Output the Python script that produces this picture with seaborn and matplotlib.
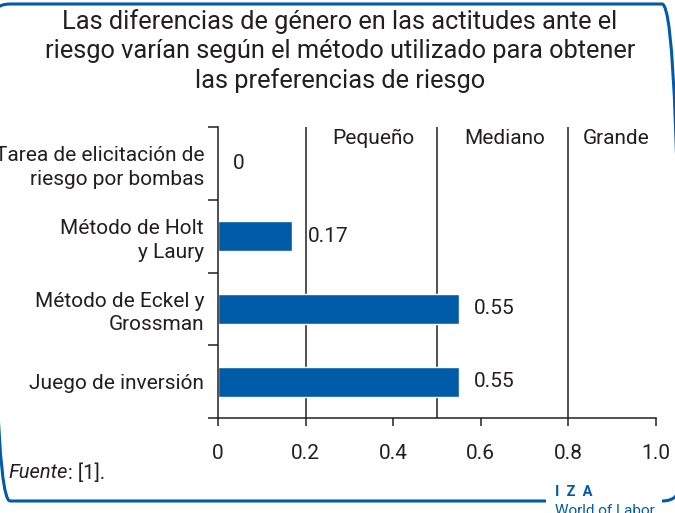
import numpy as np
import matplotlib
matplotlib.use("Agg")
import matplotlib.pyplot as plt
import matplotlib.transforms as mtransforms
from matplotlib.patches import FancyBboxPatch, Rectangle
import seaborn as sns
import pandas as pd

# data
metodos = ["Tarea de elicitación de\nriesgo por bombas",
           "Método de Holt\ny Laury",
           "Método de Eckel y\nGrossman",
           "Juego de inversión"]
diferencia = [0.0, 0.17, 0.55, 0.55]
umbrales = [0.2, 0.5, 0.8]
bandas = ["Pequeño", "Mediano", "Grande"]
bandas_x = [0.355, 0.655, 0.91]
xticks = [0, 0.2, 0.4, 0.6, 0.8, 1.0]
xtick_labels = ["0", "0.2", "0.4", "0.6", "0.8", "1.0"]

titulo = ("Las diferencias de género en las actitudes ante el\n"
          "riesgo varían según el método utilizado para obtener\n"
          "las preferencias de riesgo")

azul = "#005ca9"
gris = "#231f20"
fs = 15

sns.set_style("white")
plt.rcParams['font.family'] = ['Roboto', 'DejaVu Sans']

df = pd.DataFrame({"metodo": metodos, "valor": diferencia})

fig = plt.figure(figsize=(6.75, 5.13), dpi=100)
ax = fig.add_axes([218/675, 1-418/513, (656-218)/675, (418-127)/513])

sns.barplot(data=df, x="valor", y="metodo", orient="h", color=azul,
            saturation=1, width=0.41, ax=ax)

ax.set_xlim(0, 1.0)
ax.set_ylim(3.5, -0.5)
ax.set_xlabel("")
ax.set_ylabel("")

for u in umbrales:
    ax.axvline(u, color=gris, lw=1.1, zorder=0)

for b, bx in zip(bandas, bandas_x):
    ax.text(bx, -0.47, b, ha="center", va="top", fontsize=fs, color=gris)

for i, v in enumerate(diferencia):
    ax.annotate(f"{v:g}", (v, i), xytext=(11, 0), textcoords="offset points",
                ha="left", va="center", fontsize=fs, color=gris)

sns.despine(ax=ax)
for s in ["left", "bottom"]:
    ax.spines[s].set_color(gris)
    ax.spines[s].set_linewidth(1.1)

ax.set_xticks(xticks)
ax.set_xticklabels(xtick_labels, fontsize=fs, color=gris)
ax.tick_params(axis="x", direction="out", length=6, width=1.1, color=gris,
               pad=13, bottom=True)
ax.set_yticks(range(len(metodos)))
ax.set_yticklabels(metodos, fontsize=fs, color=gris, linespacing=1.3)
ax.tick_params(axis="y", which="major", length=0, pad=10)
ax.set_yticks(np.arange(-0.5, len(metodos)), minor=True)
ax.tick_params(axis="y", which="minor", direction="out", length=7, width=1.1,
               color=gris, left=True)

fig.text(340/675, 1-9/513, titulo, ha="center", va="top", fontsize=18.3,
         color=gris, linespacing=1.25)

fuente = fig.text(8/675, 1-473/513, "Fuente", style="italic", ha="left",
                  va="center", fontsize=14.5, color=gris)
fig.canvas.draw()
bb = fuente.get_window_extent()
fig.text(bb.x1/675 + 1/675, 1-473/513, ": [1].", ha="left", va="center",
         fontsize=14.5, color=gris)

# rounded frame around the figure
px = mtransforms.IdentityTransform()
H = 513
marco = FancyBboxPatch((-8, H-501), 688, 497,
                       boxstyle="round,pad=0,rounding_size=18",
                       transform=px, fill=False, edgecolor=azul, lw=2.2,
                       clip_on=False)
fig.patches.append(marco)
fig.patches.append(Rectangle((546, 0), 116, 20, transform=px,
                             facecolor="white", edgecolor="none"))

fig.text(555/675, 1-492/513, "I  Z  A", ha="left", va="center", fontsize=10.5,
         fontweight="bold", color=azul)
fig.text(555/675, 1-511/513, "World of Labor", ha="left", va="center",
         fontsize=11, color=azul)

fig.savefig("out.png", dpi=100)
